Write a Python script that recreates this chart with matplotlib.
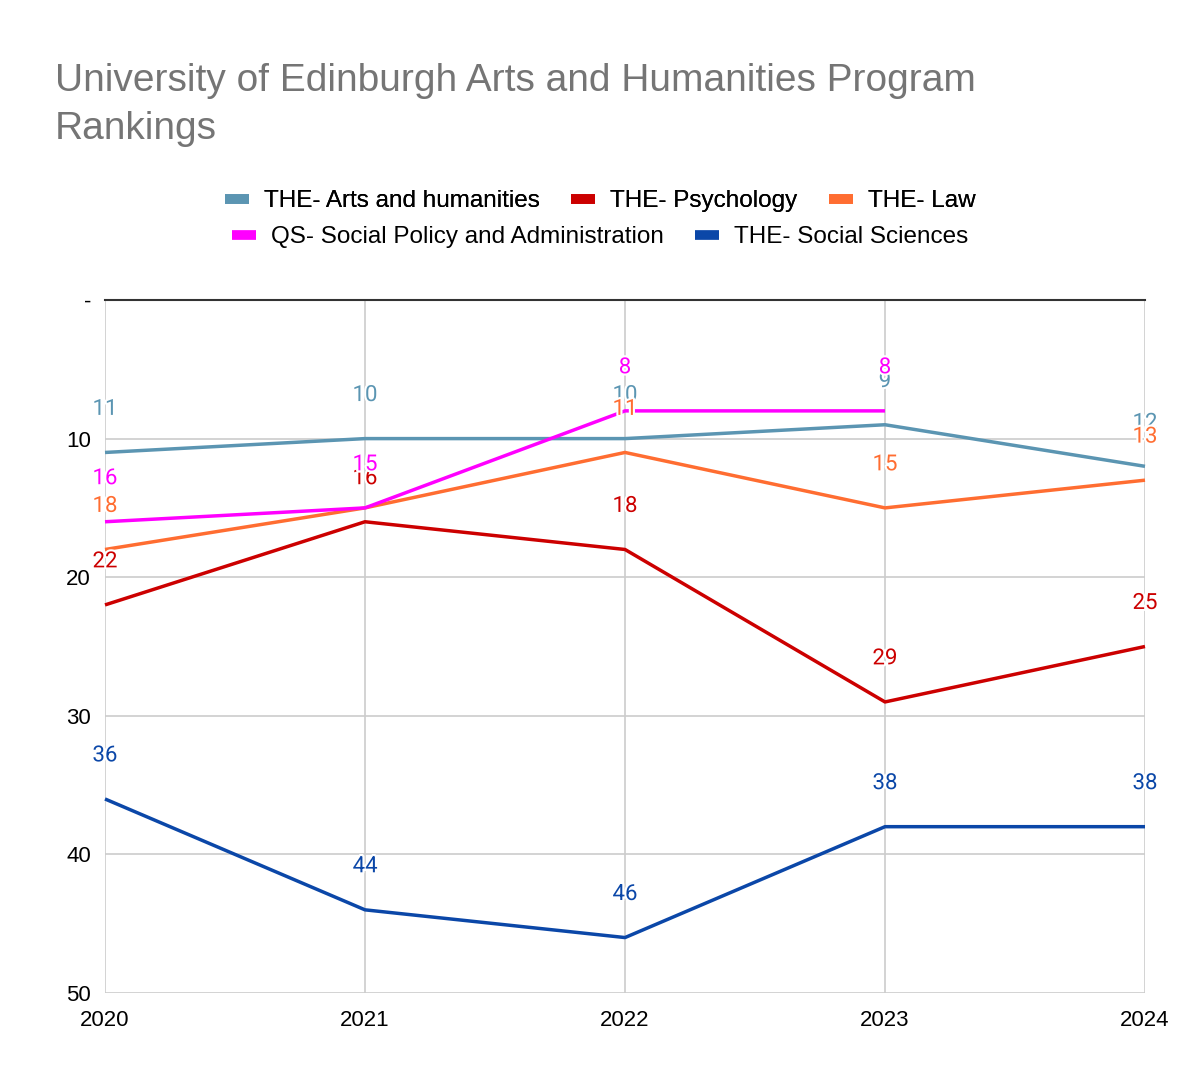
import matplotlib.pyplot as plt
import matplotlib.patheffects as pe
from matplotlib.lines import Line2D

years = [2020, 2021, 2022, 2023, 2024]

arts = [11, 10, 10, 9, 12]
psychology = [22, 16, 18, 29, 25]
law = [18, 15, 11, 15, 13]
social_policy = [16, 15, 8, 8, None]
social_sciences = [36, 44, 46, 38, 38]

series = [
    ("THE- Arts and humanities", arts, "#5b95b2"),
    ("THE- Psychology", psychology, "#cc0000"),
    ("THE- Law", law, "#ff6d31"),
    ("QS- Social Policy and Administration", social_policy, "#ff00ff"),
    ("THE- Social Sciences", social_sciences, "#0b47a8"),
]

y_ticks = [0, 10, 20, 30, 40, 50]
y_tick_labels = ["-", "10", "20", "30", "40", "50"]

fig = plt.figure(figsize=(12, 10.88), dpi=100)
ax = fig.add_axes([105 / 1200, 1 - 993 / 1088, 1040 / 1200, 693 / 1088])

for name, values, color in series:
    xs = [x for x, v in zip(years, values) if v is not None]
    ys = [v for v in values if v is not None]
    ax.plot(xs, ys, color=color, lw=2.5, solid_capstyle="butt", zorder=3, clip_on=False)
    for x, y in zip(xs, ys):
        ax.annotate(str(y), (x, y), xytext=(0, 31), textcoords="offset points",
                    ha="center", va="center", fontsize=16, color=color,
                    family="Roboto", zorder=5,
                    path_effects=[pe.withStroke(linewidth=3, foreground="white")])

ax.set_xlim(2020, 2024)
ax.set_ylim(50, 0)
ax.set_xticks(years)
ax.set_xticklabels([str(y) for y in years], family="Liberation Sans", fontsize=16)
ax.set_yticks(y_ticks)
ax.set_yticklabels(y_tick_labels, family="Liberation Sans", fontsize=16)
ax.tick_params(length=0, pad=10)
ax.tick_params(axis="x", pad=12)
ax.grid(True, color="#cccccc", lw=1.2, zorder=0)
ax.set_axisbelow(True)
for s in ["left", "right", "bottom"]:
    ax.spines[s].set_visible(False)
ax.spines["top"].set_color("#333333")
ax.spines["top"].set_linewidth(1.5)

fig.text(55 / 1200, 1 - 81 / 1088, "University of Edinburgh Arts and Humanities Program",
         family="Liberation Sans", fontsize=28, color="#757575", va="center")
fig.text(55 / 1200, 1 - 129 / 1088, "Rankings",
         family="Liberation Sans", fontsize=28, color="#757575", va="center")


def make_handles(items):
    return [Line2D([], [], color=c, lw=7, solid_capstyle="butt") for _, _, c in items]


row1 = series[:3]
row2 = series[3:]
leg1 = fig.legend(make_handles(row1), [n for n, _, _ in row1], loc="center",
                  bbox_to_anchor=(600 / 1200, 1 - 201 / 1088), ncol=3, frameon=False,
                  prop={"family": "Liberation Sans", "size": 17.5}, handlelength=1.0,
                  columnspacing=1.3, handletextpad=0.6)
fig.add_artist(leg1)
fig.legend(make_handles(row2), [n for n, _, _ in row2], loc="center",
           bbox_to_anchor=(600 / 1200, 1 - 237 / 1088), ncol=2, frameon=False,
           prop={"family": "Liberation Sans", "size": 17.5}, handlelength=1.0,
           columnspacing=1.3, handletextpad=0.6)

fig.savefig("out.png", dpi=100)
